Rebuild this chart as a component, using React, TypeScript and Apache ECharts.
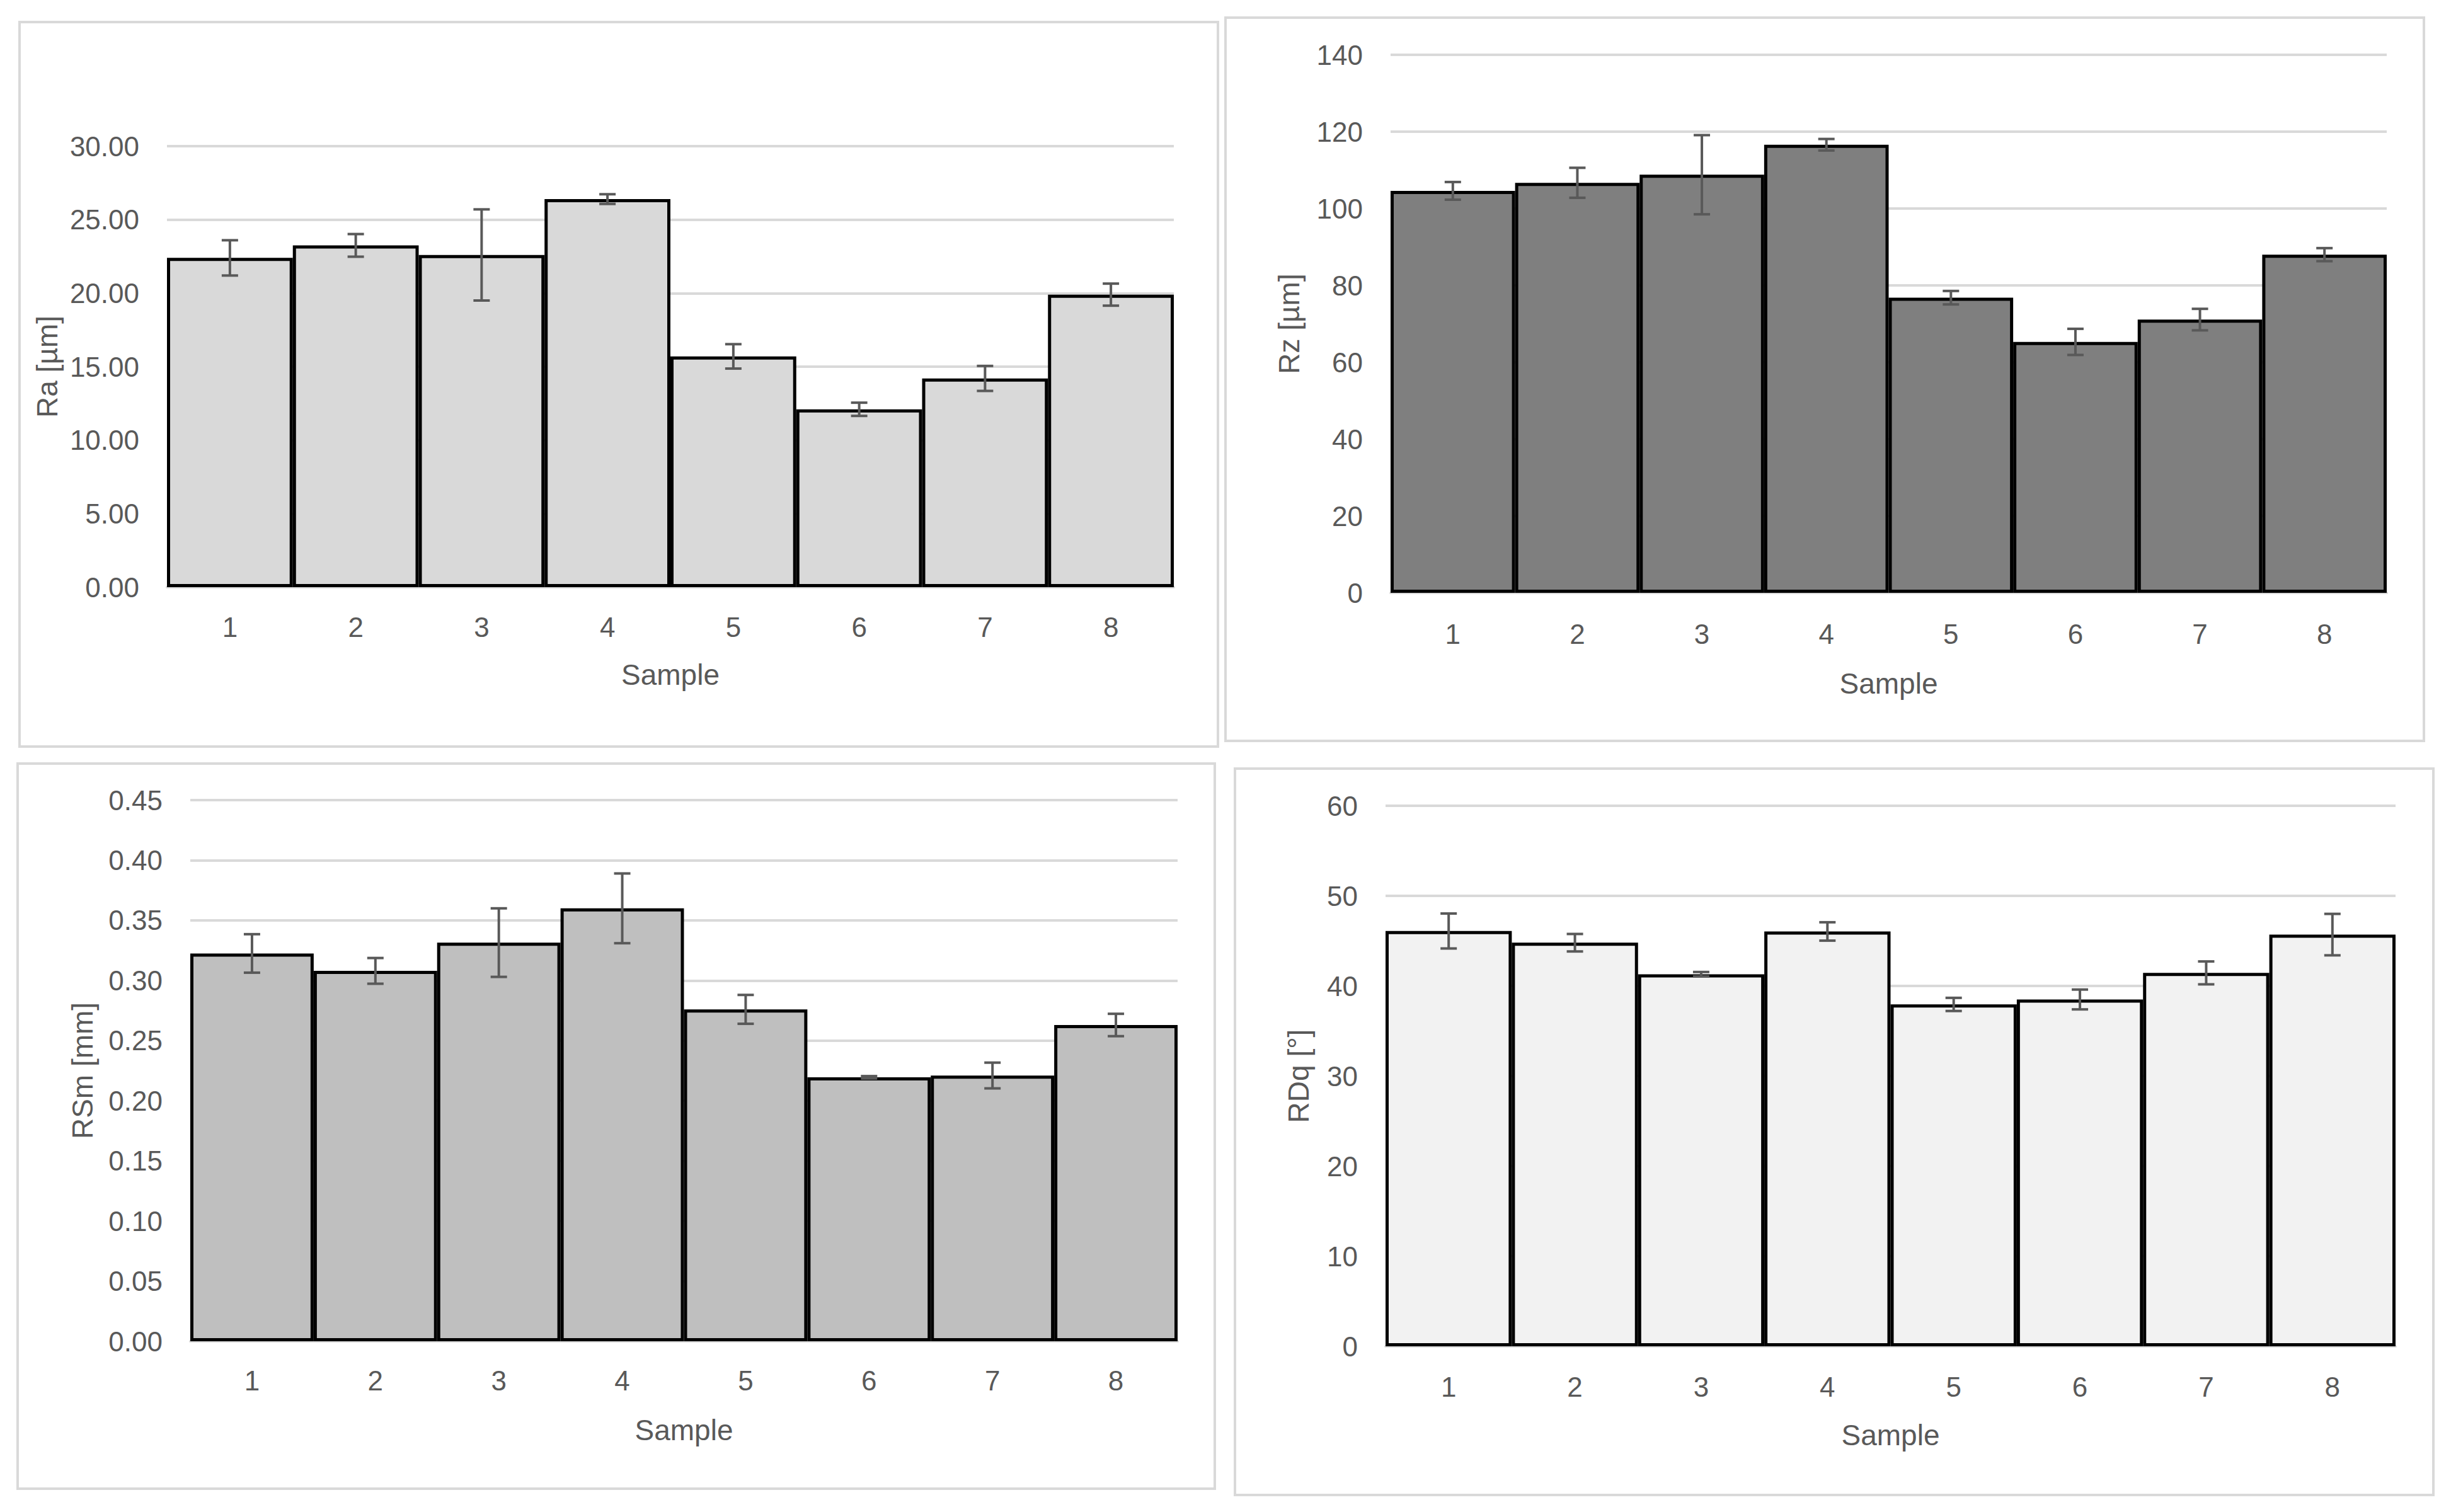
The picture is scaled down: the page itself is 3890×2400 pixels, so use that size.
import React, { useEffect, useRef } from "react";
import * as echarts from "echarts";

const categories = ["1", "2", "3", "4", "5", "6", "7", "8"];

const raValues = [22.4, 23.25, 22.6, 26.4, 15.7, 12.1, 14.2, 19.9];
const raErrors = [1.2, 0.77, 3.1, 0.33, 0.83, 0.45, 0.85, 0.75];

const rzValues = [104.6, 106.7, 108.8, 116.6, 76.8, 65.3, 71.1, 88.0];
const rzErrors = [2.3, 3.9, 10.3, 1.5, 1.75, 3.4, 2.8, 1.7];

const rsmValues = [0.3225, 0.308, 0.3315, 0.36, 0.276, 0.2195, 0.221, 0.263];
const rsmErrors = [0.016, 0.0107, 0.0285, 0.029, 0.012, 0.001, 0.0107, 0.0093];

const rdqValues = [46.1, 44.8, 41.3, 46.05, 37.95, 38.5, 41.45, 45.7];
const rdqErrors = [1.94, 0.97, 0.25, 1.02, 0.73, 1.1, 1.27, 2.3];

const FONT = "'Liberation Sans', Arial, sans-serif";
const TXT = "#595959";
const GRIDC = "#d9d9d9";

type Panel = {
  name: string;
  values: number[];
  errors: number[];
  color: string;
  max: number;
  interval: number;
  decimals: number;
  grid: { left: number; top: number; width: number; height: number };
  nameGap: number;
  labelMargin: number;
  xNameGap: number;
  frame: [number, number, number, number];
};

const panels: Panel[] = [
  {
    name: "Ra [µm]", values: raValues, errors: raErrors, color: "#d9d9d9",
    max: 30, interval: 5, decimals: 2,
    grid: { left: 265, top: 232, width: 1598, height: 700 },
    nameGap: 167, labelMargin: 41, xNameGap: 116,
    frame: [31, 35, 1902, 1150],
  },
  {
    name: "Rz [µm]", values: rzValues, errors: rzErrors, color: "#7f7f7f",
    max: 140, interval: 20, decimals: 0,
    grid: { left: 2207, top: 87, width: 1581, height: 854 },
    nameGap: 138, labelMargin: 43, xNameGap: 121,
    frame: [1945, 28, 1902, 1148],
  },
  {
    name: "RSm [mm]", values: rsmValues, errors: rsmErrors, color: "#bfbfbf",
    max: 0.45, interval: 0.05, decimals: 2,
    grid: { left: 302, top: 1270, width: 1567, height: 859 },
    nameGap: 148, labelMargin: 40, xNameGap: 118,
    frame: [28, 1212, 1900, 1151],
  },
  {
    name: "RDq [°]", values: rdqValues, errors: rdqErrors, color: "#f2f2f2",
    max: 60, interval: 10, decimals: 0,
    grid: { left: 2199, top: 1279, width: 1603, height: 858 },
    nameGap: 115, labelMargin: 42, xNameGap: 118,
    frame: [1960, 1220, 1902, 1153],
  },
];

export default function App() {
  const ref = useRef<HTMLDivElement>(null);

  useEffect(() => {
    document.body.style.margin = "0";
    if (!ref.current) return;
    const chart = echarts.init(ref.current, undefined, { renderer: "svg" });

    const grids = panels.map((p) => ({ ...p.grid, containLabel: false }));
    const xAxes = panels.map((p, i) => ({
      type: "category",
      gridIndex: i,
      data: categories,
      name: "Sample",
      nameLocation: "middle",
      nameGap: p.xNameGap,
      nameTextStyle: { fontFamily: FONT, fontSize: 46, color: TXT },
      axisLine: { show: true, lineStyle: { color: GRIDC, width: 4 } },
      axisTick: { show: false },
      axisLabel: { fontFamily: FONT, fontSize: 44, color: TXT, margin: p.labelMargin },
    }));
    const yAxes = panels.map((p, i) => ({
      type: "value",
      gridIndex: i,
      min: 0,
      max: p.max,
      interval: p.interval,
      name: p.name,
      nameLocation: "middle",
      nameRotate: 90,
      nameGap: p.nameGap,
      nameTextStyle: { fontFamily: FONT, fontSize: 46, color: TXT },
      axisLine: { show: false },
      axisTick: { show: false },
      splitLine: { show: true, lineStyle: { color: GRIDC, width: 4 } },
      axisLabel: {
        fontFamily: FONT,
        fontSize: 44,
        color: TXT,
        margin: 44,
        formatter: (v: number) => v.toFixed(p.decimals),
      },
    }));

    const series: any[] = [];
    panels.forEach((p, i) => {
      series.push({
        type: "bar",
        xAxisIndex: i,
        yAxisIndex: i,
        data: p.values,
        barCategoryGap: "0%",
        itemStyle: { color: p.color, borderColor: "#000000", borderWidth: 5 },
        z: 2,
      });
      series.push({
        type: "custom",
        xAxisIndex: i,
        yAxisIndex: i,
        z: 5,
        data: p.values.map((v, k) => [k, v - p.errors[k], v + p.errors[k]]),
        renderItem: (params: any, api: any) => {
          const x = api.value(0);
          const lo = api.coord([x, api.value(1)]);
          const hi = api.coord([x, api.value(2)]);
          const cx = hi[0];
          const w = 13;
          const style = { stroke: "#595959", lineWidth: 4, fill: "none" };
          return {
            type: "group",
            children: [
              { type: "line", shape: { x1: cx, y1: hi[1], x2: cx, y2: lo[1] }, style },
              { type: "line", shape: { x1: cx - w, y1: hi[1], x2: cx + w, y2: hi[1] }, style },
              { type: "line", shape: { x1: cx - w, y1: lo[1], x2: cx + w, y2: lo[1] }, style },
            ],
          };
        },
      });
    });

    const graphic = panels.map((p) => ({
      type: "rect",
      z: -10,
      silent: true,
      shape: { x: p.frame[0], y: p.frame[1], width: p.frame[2], height: p.frame[3] },
      style: { fill: "#ffffff", stroke: GRIDC, lineWidth: 4 },
    }));

    chart.setOption({
      animation: false,
      backgroundColor: "#ffffff",
      graphic,
      grid: grids,
      xAxis: xAxes,
      yAxis: yAxes,
      series,
    });

    return () => chart.dispose();
  }, []);

  return <div ref={ref} style={{ width: 3890, height: 2400 }} />;
}
